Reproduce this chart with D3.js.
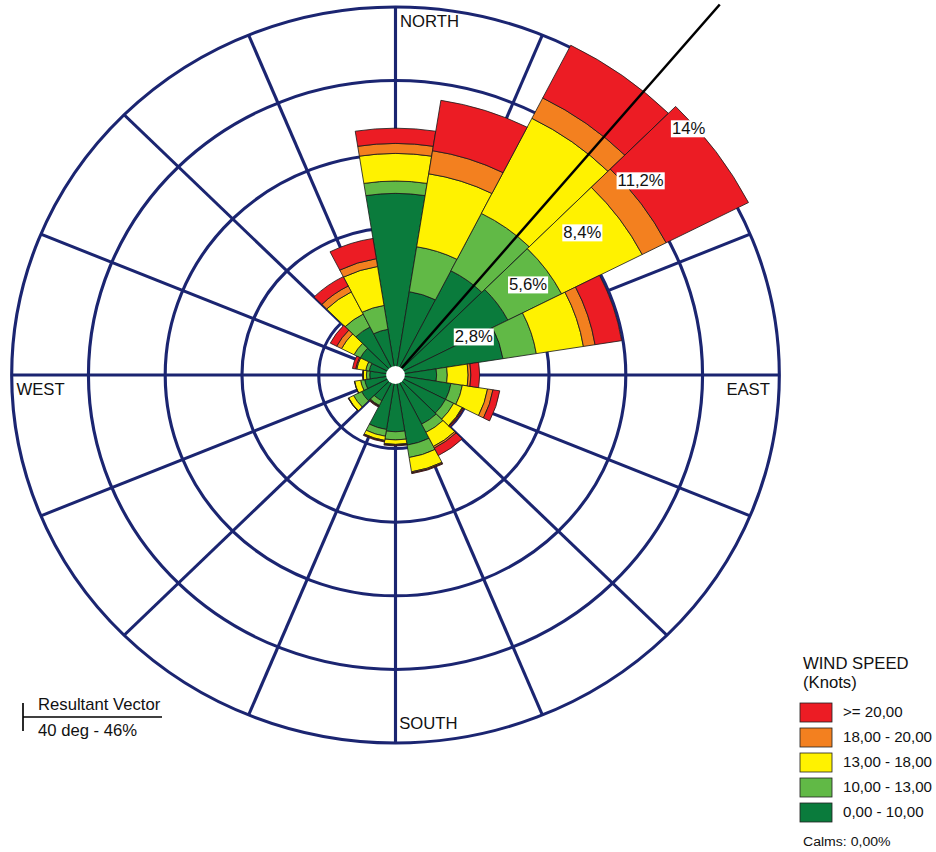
<!DOCTYPE html>
<html>
<head>
<meta charset="utf-8">
<script src="https://cdn.jsdelivr.net/npm/d3@7/dist/d3.min.js"></script>
<style>
  html, body { margin: 0; padding: 0; background: #ffffff; }
  svg { display: block; }
  text { font-family: "Liberation Sans", Arial, Helvetica, sans-serif; fill: #111; }
</style>
</head>
<body>
<div id="chart"></div>
<script>
// Wind directions (degrees clockwise from north), 20 sectors of 18 degrees
const directions = [0, 18, 36, 54, 72, 90, 108, 126, 144, 162,
                    180, 198, 216, 234, 252, 270, 288, 306, 324, 342];

// Frequency (%) per speed class and direction
const speed0to10  = [6.91, 3.21, 4.45, 4.60, 3.97, 1.50, 2.05, 2.05, 2.10, 2.70,
                     2.16, 2.10, 1.10, 1.39, 1.14, 0.94, 0.97, 1.44, 2.05, 1.76];
const speed10to13 = [0.47, 1.73, 2.45, 2.20, 1.23, 0.39, 0.42, 0.33, 0.35, 0.48,
                     0.31, 0.26, 0.20, 0.33, 0.15, 0.12, 0.13, 0.26, 0.55, 0.92];
const speed13to18 = [1.05, 2.81, 4.06, 3.30, 1.74, 0.76, 0.93, 0.35, 0.60, 0.55,
                     0.17, 0.16, 0.02, 0.20, 0.22, 0.12, 0.33, 0.51, 0.95, 1.50];
const speed18to20 = [0.38, 0.89, 0.87, 0.98, 0.43, 0.10, 0.20, 0.03, 0.07, 0.04,
                     0.03, 0.03, 0.02, 0.01, 0.01, 0.01, 0.04, 0.20, 0.25, 0.30];
const speed20plus = [0.58, 1.94, 2.25, 3.37, 0.98, 0.32, 0.25, 0.04, 0.32, 0.03,
                     0.03, 0.03, 0.03, 0.01, 0.00, 0.01, 0.12, 0.26, 0.40, 0.78];

const speedKeys   = ["s0", "s1", "s2", "s3", "s4"];
const speedLabels = ["0,00 - 10,00", "10,00 - 13,00", "13,00 - 18,00", "18,00 - 20,00", ">= 20,00"];
const speedColors = ["#0a7b3c", "#61b946", "#fff200", "#f3801f", "#ec1c24"];

// Radial rings (%) and their labels
const ringValues = [2.8, 5.6, 8.4, 11.2, 14];
const ringLabels = ["2,8%", "5,6%", "8,4%", "11,2%", "14%"];

// Compass labels
const compassLabels = ["NORTH", "EAST", "SOUTH", "WEST"];

// Resultant vector: direction (deg) and drawn length on the % scale
const resultantDir = 40;
const resultantDrawLen = 18.4;
const resultantText = ["Resultant Vector", "40 deg - 46%"];

const calmsText = "Calms: 0,00%";
const legendTitle = ["WIND SPEED", "(Knots)"];

// ---- layout ----
const W = 936, H = 852;
const SX = 1.043;                 // horizontal aspect of the plot
const cx = 395.5 / SX, cy = 375;
const R = 368;
const sector = 18;
const grid = "#1b2571";
const rad = d => d * Math.PI / 180;

const svg = d3.select("#chart").append("svg")
  .attr("width", W).attr("height", H);
const root = svg.append("g").attr("transform", `scale(${SX},1)`);

const r = d3.scaleLinear().domain([0, 14]).range([0, R]);
const pt = (deg, v) => [cx + r(v) * Math.sin(rad(deg)), cy - r(v) * Math.cos(rad(deg))];

// ---- grid ----
const gGrid = root.append("g");
gGrid.selectAll("circle").data(ringValues).join("circle")
  .attr("cx", cx).attr("cy", cy).attr("r", d => r(d))
  .attr("fill", "none").attr("stroke", grid).attr("stroke-width", 3);
gGrid.selectAll("line").data(d3.range(0, 360, 22.5)).join("line")
  .attr("x1", cx).attr("y1", cy)
  .attr("x2", d => pt(d, 14)[0]).attr("y2", d => pt(d, 14)[1])
  .attr("stroke", grid).attr("stroke-width", 3);

// ---- bars ----
const rows = directions.map((dir, i) => ({
  dir,
  s0: speed0to10[i], s1: speed10to13[i], s2: speed13to18[i],
  s3: speed18to20[i], s4: speed20plus[i]
}));
const stacked = d3.stack().keys(speedKeys)(rows);

const arc = d3.arc()
  .innerRadius(d => r(d[0]))
  .outerRadius(d => r(d[1]))
  .startAngle(d => rad(d.data.dir - sector / 2))
  .endAngle(d => rad(d.data.dir + sector / 2));

const gBars = root.append("g").attr("transform", `translate(${cx},${cy})`);
stacked.forEach((layer, k) => {
  gBars.append("g").selectAll("path")
    .data(layer.filter(d => d[1] - d[0] > 0))
    .join("path")
    .attr("d", arc)
    .attr("fill", speedColors[k])
    .attr("stroke", "#1a1a1a")
    .attr("stroke-width", 0.8)
    .attr("stroke-linejoin", "round");
});

// ---- resultant vector ----
const rv = pt(resultantDir, resultantDrawLen);
root.append("line")
  .attr("x1", cx).attr("y1", cy).attr("x2", rv[0]).attr("y2", rv[1])
  .attr("stroke", "#000").attr("stroke-width", 2.4);

// center hole
root.append("circle").attr("cx", cx).attr("cy", cy).attr("r", 9).attr("fill", "#fff");

// ---- ring labels ----
ringValues.forEach((v, i) => {
  const p = pt(45, v);
  const g = root.append("g").attr("transform", `translate(${p[0] + 3.8},${p[1] + 5.5})`);
  const rect = g.append("rect").attr("fill", "#fff").attr("height", 17).attr("y", 0);
  const t = g.append("text").attr("x", 1).attr("y", 14).attr("font-size", 16).text(ringLabels[i]);
  rect.attr("width", t.node().getComputedTextLength() + 2);
});

// ---- compass labels ----
const fs = 16;
root.append("text").attr("x", cx + 4.3).attr("y", cy - R + 20).attr("font-size", fs).text(compassLabels[0]);
root.append("text").attr("x", cx + R - 9).attr("y", cy + 20).attr("font-size", fs)
  .attr("text-anchor", "end").text(compassLabels[1]);
root.append("text").attr("x", cx + 3.6).attr("y", cy + R - 14).attr("font-size", fs).text(compassLabels[2]);
root.append("text").attr("x", cx - R + 4.6).attr("y", cy + 20).attr("font-size", fs).text(compassLabels[3]);

// ---- resultant vector key ----
const kx = 23 / SX;
root.append("line").attr("x1", kx).attr("x2", kx).attr("y1", 703).attr("y2", 731)
  .attr("stroke", "#000").attr("stroke-width", 1.6);
root.append("line").attr("x1", kx).attr("x2", 162 / SX).attr("y1", 717).attr("y2", 717)
  .attr("stroke", "#000").attr("stroke-width", 1.6);
root.append("text").attr("x", 38 / SX).attr("y", 710).attr("font-size", 16).text(resultantText[0]);
root.append("text").attr("x", 38 / SX).attr("y", 736).attr("font-size", 16).text(resultantText[1]);

// ---- speed legend ----
const lx = 800 / SX;
root.append("text").attr("x", 803 / SX).attr("y", 669).attr("font-size", 16).text(legendTitle[0]);
root.append("text").attr("x", 803 / SX).attr("y", 688).attr("font-size", 16).text(legendTitle[1]);
const order = [4, 3, 2, 1, 0];
order.forEach((k, i) => {
  const y = 703 + i * 25;
  root.append("rect").attr("x", lx).attr("y", y).attr("width", 32 / SX).attr("height", 19)
    .attr("fill", speedColors[k]).attr("stroke", "#222").attr("stroke-width", 0.8);
  root.append("text").attr("x", 843 / SX).attr("y", y + 14.5).attr("font-size", 14.5).text(speedLabels[k]);
});
root.append("text").attr("x", 803 / SX).attr("y", 846).attr("font-size", 13.5).text(calmsText);
</script>
</body>
</html>
